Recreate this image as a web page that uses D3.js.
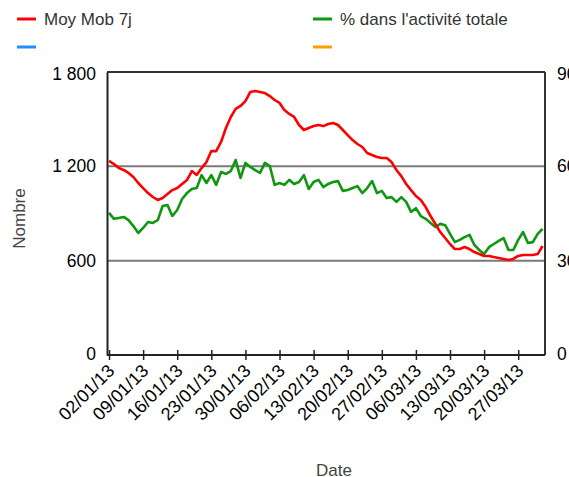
<!DOCTYPE html>
<html>
<head>
<meta charset="utf-8">
<script src="https://cdn.jsdelivr.net/npm/d3@7"></script>
<style>
  body { margin: 0; background: #fff; }
  text { font-family: "Liberation Sans", Arial, sans-serif; }
</style>
</head>
<body>
<svg id="chart" width="569" height="477"></svg>
<script>
// data, one point per day starting 02/01/13
var startDate = "2013-01-02";
var moyMob = [1235, 1215, 1189, 1177, 1158, 1132, 1094, 1062, 1030, 1005,
  986, 999, 1024, 1049, 1062, 1088, 1113, 1170, 1145, 1189,
  1227, 1297, 1297, 1355, 1444, 1514, 1565, 1584, 1615, 1673,
  1679, 1673, 1666, 1647, 1622, 1603, 1558, 1533, 1514, 1463,
  1431, 1444, 1456, 1463, 1456, 1469, 1476, 1463, 1431, 1399,
  1367, 1342, 1323, 1285, 1272, 1259, 1253, 1253, 1227, 1177,
  1138, 1088, 1049, 1011, 986, 941, 884, 833, 782, 744,
  706, 674, 674, 687, 674, 655, 642, 630, 630, 623,
  617, 611, 604, 611, 630, 636, 636, 636, 642, 693];
var pctActivite = [45.2, 43.3, 43.6, 43.9, 42.9, 41.0, 38.8, 40.4, 42.3, 42.0,
  42.9, 47.4, 47.7, 44.2, 46.1, 49.6, 51.5, 52.8, 53.1, 57.2,
  54.7, 57.2, 54.1, 58.2, 57.6, 58.5, 62.0, 56.3, 61.1, 59.8,
  58.8, 57.9, 61.1, 60.1, 54.1, 54.7, 54.1, 55.7, 54.4, 55.0,
  57.2, 52.8, 55.0, 55.7, 53.4, 54.4, 55.0, 55.3, 52.2, 52.5,
  53.1, 53.7, 51.5, 53.1, 55.3, 51.5, 52.2, 49.9, 50.2, 48.7,
  50.2, 48.7, 45.5, 46.7, 44.2, 43.3, 42.0, 40.7, 41.7, 41.3,
  38.5, 35.9, 36.6, 37.5, 38.2, 35.0, 33.4, 32.1, 34.3, 35.3,
  36.3, 37.2, 33.4, 33.4, 36.6, 39.1, 35.6, 35.9, 38.5, 40.1];
var leftTicks = [0, 600, 1200, 1800];
var rightTicks = [0, 30, 60, 90];
var gridTicks = [600, 1200];
var legendItems = [
  {name: "Moy Mob 7j", color: "#ff0000"},
  {name: "% dans l'activité totale", color: "#0f970f"},
  {name: "", color: "#1e90ff"},
  {name: "", color: "#ff9d00"}
];

var svg = d3.select("#chart"),
  margin = {top: 72, right: 24, bottom: 122, left: 107},
  width = +svg.attr("width") - margin.left - margin.right,
  height = +svg.attr("height") - margin.top - margin.bottom;

var parse = d3.timeParse("%Y-%m-%d");
var day0 = parse(startDate);
var dates = moyMob.map(function(d, i) { return d3.timeDay.offset(day0, i); });

// a bit of room on each side
var x = d3.scaleTime()
  .domain([d3.timeHour.offset(day0, -10), d3.timeHour.offset(dates[dates.length - 1], 12)])
  .range([0, width]);
var y = d3.scaleLinear().domain([0, 1800]).range([height, 0]);
var y2 = d3.scaleLinear().domain([0, 90]).range([height, 0]);

var g = svg.append("g")
  .attr("transform", "translate(" + margin.left + "," + margin.top + ")");

// grid lines
g.selectAll(".grid")
  .data(gridTicks)
  .enter().append("line")
  .attr("x1", 0).attr("x2", width)
  .attr("y1", function(d) { return y(d); })
  .attr("y2", function(d) { return y(d); })
  .attr("stroke", "#7a7a7a")
  .attr("stroke-width", 2);

// frame top and right
g.append("line").attr("x1", 0).attr("x2", width).attr("y1", 0).attr("y2", 0)
  .attr("stroke", "#333").attr("stroke-width", 2);
g.append("line").attr("x1", width).attr("x2", width).attr("y1", 0).attr("y2", height)
  .attr("stroke", "#333").attr("stroke-width", 2);

// lines
var lineMob = d3.line()
  .x(function(d, i) { return x(dates[i]); })
  .y(function(d) { return y(d); });
var linePct = d3.line()
  .x(function(d, i) { return x(dates[i]); })
  .y(function(d) { return y2(d); });

g.append("path").datum(pctActivite)
  .attr("d", linePct)
  .attr("fill", "none")
  .attr("stroke", "#0f970f")
  .attr("stroke-width", 2.6)
  .attr("stroke-linejoin", "round");
g.append("path").datum(moyMob)
  .attr("d", lineMob)
  .attr("fill", "none")
  .attr("stroke", "#ff0000")
  .attr("stroke-width", 2.6)
  .attr("stroke-linejoin", "round");

// left axis
var yAxis = g.append("g")
  .call(d3.axisLeft(y).tickValues(leftTicks).tickSize(0).tickPadding(11)
    .tickFormat(function(d) { return d3.format(",")(d).replace(",", " "); }));
yAxis.select(".domain").attr("stroke", "#222").attr("stroke-width", 2);
yAxis.selectAll("text").attr("font-size", 17.5).attr("fill", "#000")
  .attr("font-family", "Liberation Sans, Arial, sans-serif");
yAxis.selectAll(".tick").filter(function(d) { return d === 1800; })
  .select("text").attr("dy", "0.45em");
yAxis.selectAll(".tick").filter(function(d) { return d === 0; })
  .select("text").attr("dy", "0.25em");

// right axis
var y2Axis = g.append("g")
  .attr("transform", "translate(" + width + ",0)")
  .call(d3.axisRight(y2).tickValues(rightTicks).tickSize(0).tickPadding(12));
y2Axis.select(".domain").remove();
y2Axis.selectAll("text").attr("font-size", 17.5).attr("fill", "#000")
  .attr("font-family", "Liberation Sans, Arial, sans-serif");
y2Axis.selectAll(".tick").filter(function(d) { return d === 90; })
  .select("text").attr("dy", "0.45em");
y2Axis.selectAll(".tick").filter(function(d) { return d === 0; })
  .select("text").attr("dy", "0.25em");

// bottom axis, one tick per week
var xAxis = g.append("g")
  .attr("transform", "translate(0," + height + ")")
  .call(d3.axisBottom(x)
    .tickValues(d3.range(0, 85, 7).map(function(i) { return dates[i]; }))
    .tickSizeInner(5).tickSizeOuter(0)
    .tickFormat(d3.timeFormat("%d/%m/%y")));
xAxis.select(".domain").attr("stroke", "#222").attr("stroke-width", 2)
  .attr("d", "M0,0H" + width);
xAxis.selectAll(".tick line").attr("y1", -5).attr("y2", 5)
  .attr("stroke", "#222").attr("stroke-width", 1.5);
xAxis.selectAll("text")
  .attr("font-size", 18).attr("fill", "#000")
  .attr("font-family", "Liberation Sans, Arial, sans-serif")
  .style("text-anchor", "end")
  .attr("x", 0).attr("y", 0).attr("dy", 0)
  .attr("transform", "translate(6,17) rotate(-45)");

// axis titles
svg.append("text")
  .attr("transform", "translate(25," + (margin.top + height / 2 + 5) + ") rotate(-90)")
  .attr("text-anchor", "middle")
  .attr("font-size", 17)
  .attr("fill", "#444")
  .text("Nombre");
svg.append("text")
  .attr("x", 334).attr("y", 476)
  .attr("text-anchor", "middle")
  .attr("font-size", 17)
  .attr("fill", "#444")
  .text("Date");

// legend
var legend = svg.selectAll(".legend")
  .data(legendItems)
  .enter().append("g")
  .attr("transform", function(d, i) {
    return "translate(" + (i % 2 === 0 ? 17 : 313) + "," + (i < 2 ? 19 : 47) + ")";
  });
legend.append("line")
  .attr("x1", 0).attr("x2", 19).attr("y1", 0).attr("y2", 0)
  .attr("stroke", function(d) { return d.color; })
  .attr("stroke-width", 3);
legend.append("text")
  .attr("x", 27).attr("y", 6)
  .attr("font-size", 17)
  .attr("fill", "#333")
  .text(function(d) { return d.name; });
</script>
</body>
</html>
